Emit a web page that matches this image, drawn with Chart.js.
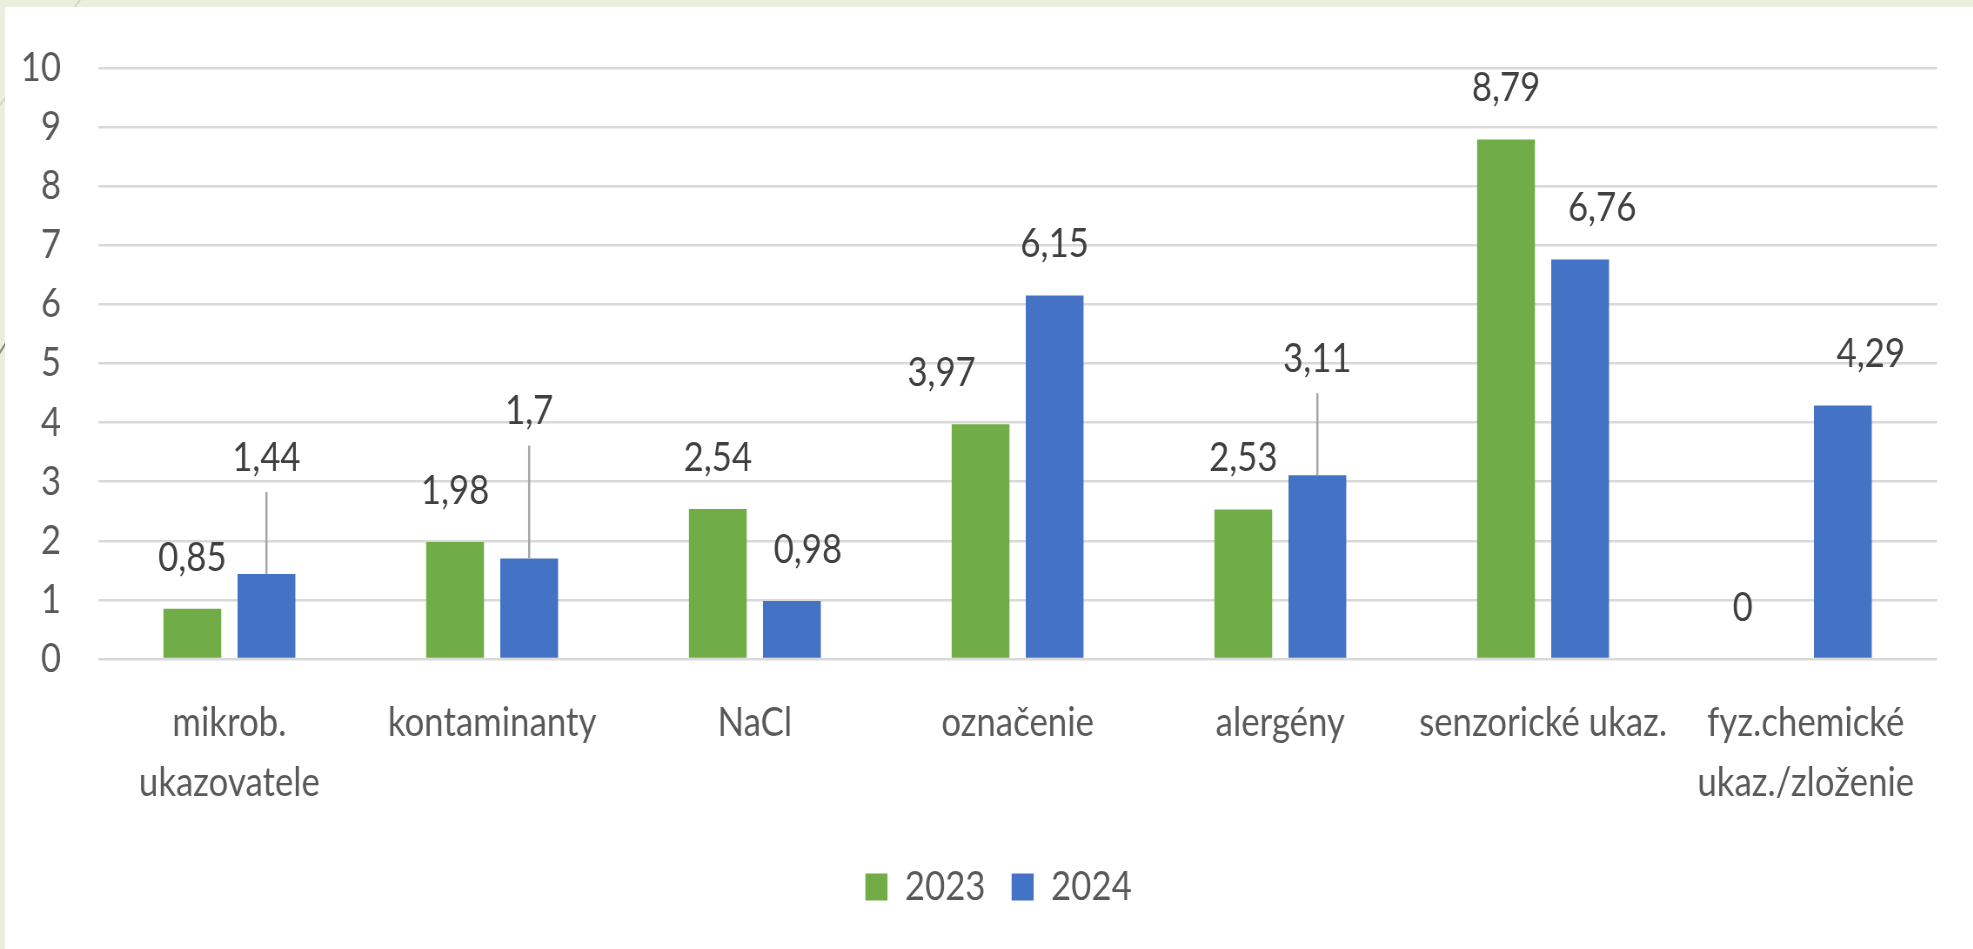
<!DOCTYPE html>
<html>
<head>
<meta charset="utf-8">
<script src="https://cdn.jsdelivr.net/npm/chart.js@4.4.1/dist/chart.umd.min.js"></script>
<style>
  html, body { margin: 0; padding: 0; width: 1973px; height: 949px; overflow: hidden; background: #e9efdc; }
  #panel { position: absolute; left: 5px; top: 7px; right: 0; bottom: 0; background: #fff; }
  #deco { position: absolute; left: 0; top: 0; }
  #chart { position: absolute; left: 0; top: 0; transform-origin: 0 0; }
</style>
</head>
<body>
<svg id="deco" width="120" height="400">
  <line x1="80" y1="0" x2="0" y2="105" stroke="#d2dbc0" stroke-width="2"/>
  <line x1="14" y1="330" x2="-6" y2="362" stroke="#8a8a70" stroke-width="2"/>
</svg>
<div id="panel"></div>
<canvas id="chart"></canvas>
<script>
const kategorie = [['mikrob.', 'ukazovatele'], 'kontaminanty', 'NaCl', 'označenie', 'alergény', 'senzorické ukaz.', ['fyz.chemické', 'ukaz./zloženie']];
const roky = ['2023', '2024'];
const hodnoty2023 = [0.85, 1.98, 2.54, 3.97, 2.53, 8.79, 0];
const hodnoty2024 = [1.44, 1.7, 0.98, 6.15, 3.11, 6.76, 4.29];
const osYMin = 0;
const osYMax = 10;
const osYKrok = 1;

// labels that were moved by hand in the original (dx, dy in px)
const posun2023 = [[0, 0], [0, 0], [0, 0], [-39, 0], [0, 0], [0, 0], [-26, 0]];
const posun2024 = [[0, -65], [0, -96], [16, 0], [0, 0], [0, -65], [22, 0], [28, 0]];

const S = 0.87; // text in the picture is a bit narrow, so squeeze the canvas
const FONT = 'Lato';

const canvas = document.getElementById('chart');
canvas.width = Math.round(1973 / S);
canvas.height = 949;
canvas.style.width = canvas.width + 'px';
canvas.style.height = '949px';
canvas.style.transform = 'scaleX(' + S + ')';

// data labels above bars, with leader lines for the moved ones
const popisky = {
    id: 'popisky',
    afterLayout(chart) {
        // legend sits a bit right of the canvas centre in the original
        chart.legend.left += 30 / S;
        chart.legend.right += 30 / S;
    },
    afterDatasetsDraw(chart) {
        const ctx = chart.ctx;
        ctx.save();
        ctx.font = '40px ' + FONT;
        ctx.textAlign = 'center';
        ctx.textBaseline = 'middle';
        chart.data.datasets.forEach((ds, i) => {
            const posun = i === 0 ? posun2023 : posun2024;
            chart.getDatasetMeta(i).data.forEach((bar, j) => {
                const x = bar.x + posun[j][0] / S;
                const y = bar.y - 51 + posun[j][1];
                if (posun[j][1] < 0) {
                    ctx.strokeStyle = '#a6a6a6';
                    ctx.lineWidth = 2.2 / S;
                    ctx.beginPath();
                    ctx.moveTo(x, y + 34);
                    ctx.lineTo(x, bar.y);
                    ctx.stroke();
                }
                ctx.fillStyle = '#404040';
                ctx.fillText(String(ds.data[j]).replace('.', ','), x, y);
            });
        });
        ctx.restore();
    }
};

new Chart(canvas.getContext('2d'), {
    type: 'bar',
    data: {
        labels: kategorie,
        datasets: [{
            label: roky[0],
            data: hodnoty2023,
            backgroundColor: '#70ad47',
            borderWidth: 0,
            categoryPercentage: 0.564,
            barPercentage: 0.78
        }, {
            label: roky[1],
            data: hodnoty2024,
            backgroundColor: '#4472c4',
            borderWidth: 0,
            categoryPercentage: 0.564,
            barPercentage: 0.78
        }]
    },
    options: {
        responsive: false,
        animation: false,
        devicePixelRatio: 1,
        layout: { padding: { top: 68, right: 36 / S, bottom: 32, left: 0 } },
        plugins: {
            legend: {
                position: 'bottom',
                labels: {
                    font: { family: FONT, size: 40 },
                    color: '#595959',
                    boxWidth: 22 / S,
                    boxHeight: 27,
                    padding: 30
                }
            },
            tooltip: { enabled: false }
        },
        scales: {
            x: {
                grid: { display: false },
                border: { display: false },
                ticks: {
                    font: { family: FONT, size: 40, lineHeight: 1.5 },
                    color: '#595959',
                    padding: 26,
                    maxRotation: 0,
                    autoSkip: false
                },
                afterFit(scale) { scale.height = 178; }
            },
            y: {
                min: osYMin,
                max: osYMax,
                ticks: {
                    stepSize: osYKrok,
                    font: { family: FONT, size: 40 },
                    color: '#595959',
                    padding: 37 / S
                },
                grid: { color: '#d9d9d9', lineWidth: 2.5, drawTicks: false },
                border: { display: false },
                afterFit(scale) { scale.width = 98 / S; }
            }
        }
    },
    plugins: [popisky]
});
</script>
</body>
</html>
